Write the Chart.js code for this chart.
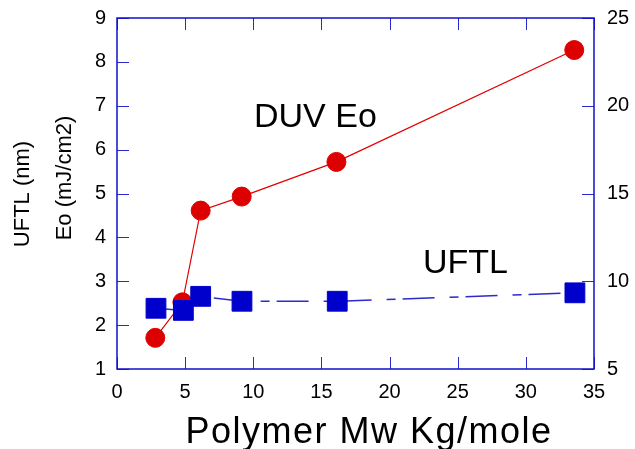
<!DOCTYPE html>
<html>
<head>
<meta charset="utf-8">
<script src="https://cdn.jsdelivr.net/npm/chart.js@4.4.0/dist/chart.umd.min.js"></script>
<style>
  html, body { margin: 0; padding: 0; background: #fff; }
  #wrap { width: 635px; height: 449px; }
</style>
</head>
<body>
<div id="wrap"><canvas id="mycanvas"></canvas></div>
<script>
// data
var mwEo = [2.81, 4.8, 6.14, 9.15, 16.1, 33.55];
var eo = [1.71, 2.52, 4.61, 4.93, 5.72, 8.27];
var mwUftl = [2.86, 4.87, 6.14, 9.17, 16.16, 33.6];
var uftl = [8.46, 8.34, 9.14, 8.86, 8.86, 9.34];

var xTicks = [0, 5, 10, 15, 20, 25, 30, 35];
var eoTicks = [1, 2, 3, 4, 5, 6, 7, 8, 9];
var uftlTicks = [5, 10, 15, 20, 25];

var FONT = "'Liberation Sans', Arial, sans-serif";
Chart.defaults.font.family = FONT;
Chart.defaults.color = '#000';

function pts(xs, ys) {
  var out = [];
  for (var i in xs) out.push({ x: xs[i], y: ys[i] });
  return out;
}
function setTicks(list) {
  return function (scale) {
    scale.ticks = list.map(function (v) { return { value: v }; });
  };
}
function fixWidth(w) {
  return function (s) {
    s.width = w;
    s.paddingTop = 0;
    s.paddingBottom = 0;
  };
}

// frame, inside tick marks and the free texts
var decor = {
  id: 'decor',
  beforeDatasetsDraw: function (chart) {
    var c = chart.ctx, a = chart.chartArea, s = chart.scales;
    c.save();
    c.strokeStyle = '#2a2ad0';
    c.lineWidth = 1;
    c.beginPath();
    eoTicks.forEach(function (v) {
      var y = Math.round(s.y.getPixelForValue(v)) + 0.5;
      c.moveTo(a.left, y); c.lineTo(a.left + 12, y);
    });
    uftlTicks.forEach(function (v) {
      var y = Math.round(s.y2.getPixelForValue(v)) + 0.5;
      c.moveTo(a.right - 12, y); c.lineTo(a.right, y);
    });
    xTicks.forEach(function (v) {
      var x = Math.round(s.x.getPixelForValue(v)) + 0.5;
      c.moveTo(x, a.bottom); c.lineTo(x, a.bottom - 12);
      c.moveTo(x, a.top); c.lineTo(x, a.top + 12);
    });
    c.stroke();
    c.strokeStyle = '#1010cc';
    c.lineWidth = 1.5;
    c.strokeRect(a.left, a.top, a.right - a.left, a.bottom - a.top);
    c.restore();
  },
  afterDraw: function (chart) {
    var c = chart.ctx;
    c.save();
    c.fillStyle = '#000';
    c.textAlign = 'center';
    c.textBaseline = 'middle';
    c.font = '22px ' + FONT;
    c.save(); c.translate(23, 194); c.rotate(-Math.PI / 2);
    c.fillText('UFTL (nm)', 0, 0); c.restore();
    c.save(); c.translate(65, 178); c.rotate(-Math.PI / 2);
    c.fillText('Eo (mJ/cm2)', 0, 0); c.restore();

    c.textBaseline = 'alphabetic';
    c.font = '36px ' + FONT;
    c.letterSpacing = '1.5px';
    c.fillText('Polymer Mw Kg/mole', 369, 443);
    c.letterSpacing = '0px';

    c.textAlign = 'left';
    c.font = '34px ' + FONT;
    c.fillText('DUV Eo', 254, 127);
    c.fillText('UFTL', 423, 273);
    c.restore();
  }
};

var ctx = document.getElementById('mycanvas');
new Chart(ctx, {
  type: 'scatter',
  data: {
    datasets: [
      {
        label: 'UFTL',
        data: pts(mwUftl, uftl),
        yAxisID: 'y2',
        showLine: true,
        borderColor: '#2b2bd0',
        borderWidth: 1.5,
        borderDash: [32, 15, 9, 7],
        pointStyle: 'rect',
        pointRadius: 14,
        pointBorderWidth: 1,
        pointBackgroundColor: '#0000cc',
        pointBorderColor: '#0000cc'
      },
      {
        label: 'DUV Eo',
        data: pts(mwEo, eo),
        yAxisID: 'y',
        showLine: true,
        borderColor: '#e00000',
        borderWidth: 1.2,
        pointStyle: 'circle',
        pointRadius: 9.5,
        pointBorderWidth: 1,
        pointBackgroundColor: '#dd0000',
        pointBorderColor: '#dd0000'
      }
    ]
  },
  options: {
    responsive: true,
    maintainAspectRatio: false,
    animation: false,
    layout: { padding: { top: 18, left: 0, right: 0, bottom: 0 } },
    plugins: { legend: { display: false }, tooltip: { enabled: false } },
    scales: {
      x: {
        type: 'linear', position: 'bottom', min: 0, max: 35,
        afterBuildTicks: setTicks(xTicks),
        afterFit: function (s) { s.height = 80; s.paddingLeft = 0; s.paddingRight = 0; },
        grid: { display: false, drawTicks: false },
        border: { display: false },
        ticks: { font: { size: 20 }, padding: 11, color: '#000' }
      },
      y: {
        type: 'linear', position: 'left', min: 1, max: 9,
        afterBuildTicks: setTicks(eoTicks),
        afterFit: fixWidth(117),
        grid: { display: false, drawTicks: false },
        border: { display: false },
        ticks: { font: { size: 20 }, padding: 11, color: '#000' }
      },
      y2: {
        type: 'linear', position: 'right', min: 5, max: 25,
        afterBuildTicks: setTicks(uftlTicks),
        afterFit: fixWidth(41),
        grid: { display: false, drawTicks: false },
        border: { display: false },
        ticks: { font: { size: 20 }, padding: 13, color: '#000' }
      }
    }
  },
  plugins: [decor]
});
</script>
</body>
</html>
